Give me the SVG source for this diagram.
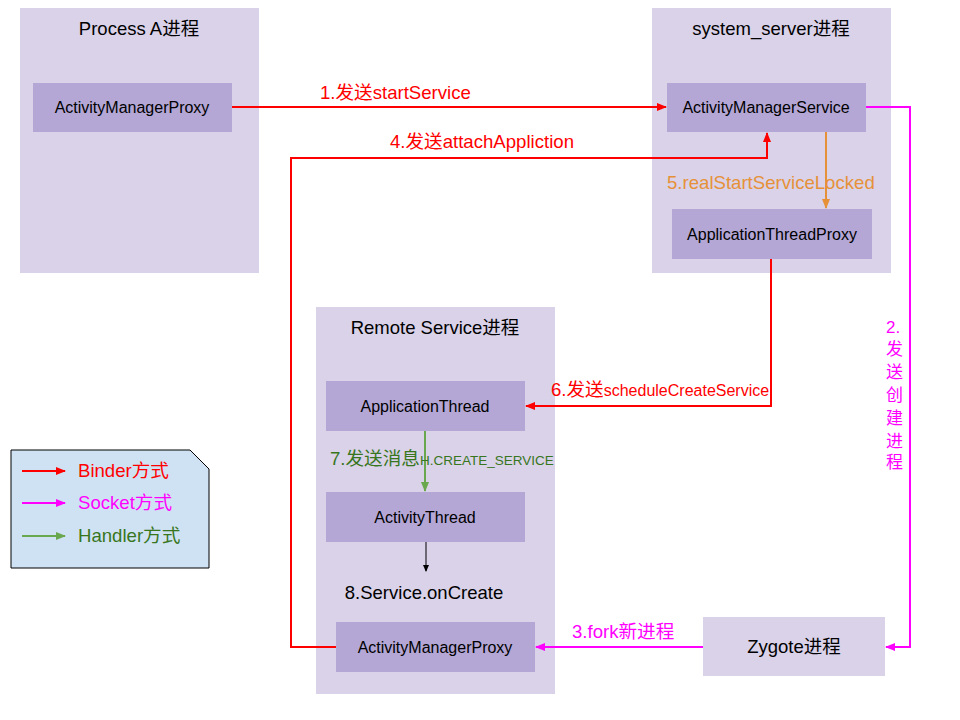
<svg xmlns="http://www.w3.org/2000/svg" width="960" height="720" viewBox="0 0 960 720">
<style>
text{font-family:"Liberation Sans","Noto Sans CJK SC",sans-serif}
.c{fill:#d9d2e9}
.n{fill:#b4a7d6}
.t{font-size:18.5px;fill:#000;text-anchor:middle}
.nt{font-size:16px;fill:#000;text-anchor:middle}
.lb{font-size:18.6px}
.l{fill:none;stroke-width:2}
.red{stroke:#ff0000}
.mag{stroke:#ff00ff}
.grn{stroke:#6aa84f}
.org{stroke:#e69138}
</style>
<defs>
<marker id="ar" markerWidth="10" markerHeight="8" refX="9" refY="4" orient="auto" markerUnits="userSpaceOnUse"><path d="M0,0L10,4L0,8z" fill="#ff0000"/></marker>
<marker id="am" markerWidth="10" markerHeight="8" refX="9" refY="4" orient="auto" markerUnits="userSpaceOnUse"><path d="M0,0L10,4L0,8z" fill="#ff00ff"/></marker>
<marker id="ag" markerWidth="10" markerHeight="8" refX="9" refY="4" orient="auto" markerUnits="userSpaceOnUse"><path d="M0,0L10,4L0,8z" fill="#6aa84f"/></marker>
<marker id="ao" markerWidth="10" markerHeight="8" refX="9" refY="4" orient="auto" markerUnits="userSpaceOnUse"><path d="M0,0L10,4L0,8z" fill="#e69138"/></marker>
<marker id="ak" markerWidth="7" markerHeight="6" refX="6" refY="3" orient="auto" markerUnits="userSpaceOnUse"><path d="M0,0L7,3L0,6z" fill="#000"/></marker>
</defs>
<g id="processA">
<rect class="c" x="20" y="8" width="239" height="265"/>
<text class="t" x="139" y="35">Process A进程</text>
</g>
<g id="systemServer">
<rect class="c" x="652" y="8" width="239" height="265"/>
<text class="t" x="771" y="35">system_server进程</text>
</g>
<g id="remoteService">
<rect class="c" x="316" y="307" width="239" height="387"/>
<text class="t" x="435" y="334">Remote Service进程</text>
</g>
<g id="amp1">
<rect class="n" x="33" y="83" width="199" height="49"/>
<text class="nt" x="132" y="113">ActivityManagerProxy</text>
</g>
<g id="ams">
<rect class="n" x="667" y="83" width="199" height="49"/>
<text class="nt" x="766" y="113">ActivityManagerService</text>
</g>
<g id="atp">
<rect class="n" x="672" y="209" width="200" height="50"/>
<text class="nt" x="772" y="240">ApplicationThreadProxy</text>
</g>
<g id="appThread">
<rect class="n" x="326" y="381" width="199" height="50"/>
<text class="nt" x="425" y="412">ApplicationThread</text>
</g>
<g id="activityThread">
<rect class="n" x="326" y="492" width="199" height="50"/>
<text class="nt" x="425" y="523">ActivityThread</text>
</g>
<g id="onCreate">
<text class="t" x="424" y="599">8.Service.onCreate</text>
</g>
<g id="amp2">
<rect class="n" x="336" y="622" width="199" height="50"/>
<text class="nt" x="435" y="653">ActivityManagerProxy</text>
</g>
<g id="zygote">
<rect class="c" x="703" y="617" width="182" height="59"/>
<text class="t" x="794" y="653">Zygote进程</text>
</g>
<g id="legend">
<path d="M11,450H190L209,469V568H11z" fill="#cfe2f3" stroke="#000" stroke-width="1"/>
<line class="l red" x1="22" y1="471" x2="65" y2="471" marker-end="url(#ar)"/>
<line class="l mag" x1="22" y1="503" x2="65" y2="503" marker-end="url(#am)"/>
<line class="l grn" x1="22" y1="536" x2="65" y2="536" marker-end="url(#ag)"/>
<text class="lb" x="78" y="477" fill="#ff0000">Binder方式</text>
<text class="lb" x="78" y="509" fill="#ff00ff">Socket方式</text>
<text class="lb" x="78" y="542" fill="#38761d">Handler方式</text>
</g>
<g id="connectors">
<path class="l red" d="M232,107H666" marker-end="url(#ar)"/>
<text class="lb" x="320" y="99" fill="#ff0000">1.发送startService</text>
<path class="l red" d="M336,647H291V158H767V133" marker-end="url(#ar)"/>
<text class="lb" x="390" y="148" fill="#ff0000">4.发送attachAppliction</text>
<path class="l org" d="M826,132V208" marker-end="url(#ao)"/>
<text class="lb" x="667" y="189" fill="#e69138">5.realStartServiceLocked</text>
<path class="l red" d="M771,259V406H526" marker-end="url(#ar)"/>
<text class="lb" x="551" y="396" fill="#ff0000">6.发送<tspan font-size="16">scheduleCreateService</tspan></text>
<path class="l grn" d="M425,431V491" marker-end="url(#ag)"/>
<text class="lb" x="330" y="465" fill="#38761d">7.发送消息<tspan font-size="13.5">H.CREATE_SERVICE</tspan></text>
<path d="M426,542V571" stroke="#000" stroke-width="1" fill="none" marker-end="url(#ak)"/>
<path class="l mag" d="M866,107H910V647H886" marker-end="url(#am)"/>
<text x="886" y="333" font-size="17" fill="#ff00ff">2.</text>
<text x="886" y="355" font-size="17" fill="#ff00ff">发</text>
<text x="886" y="378" font-size="17" fill="#ff00ff">送</text>
<text x="886" y="401" font-size="17" fill="#ff00ff">创</text>
<text x="886" y="424" font-size="17" fill="#ff00ff">建</text>
<text x="886" y="447" font-size="17" fill="#ff00ff">进</text>
<text x="886" y="468" font-size="17" fill="#ff00ff">程</text>
<path class="l mag" d="M703,647H536" marker-end="url(#am)"/>
<text class="lb" x="572" y="638" fill="#ff00ff">3.fork新进程</text>
</g>
</svg>
